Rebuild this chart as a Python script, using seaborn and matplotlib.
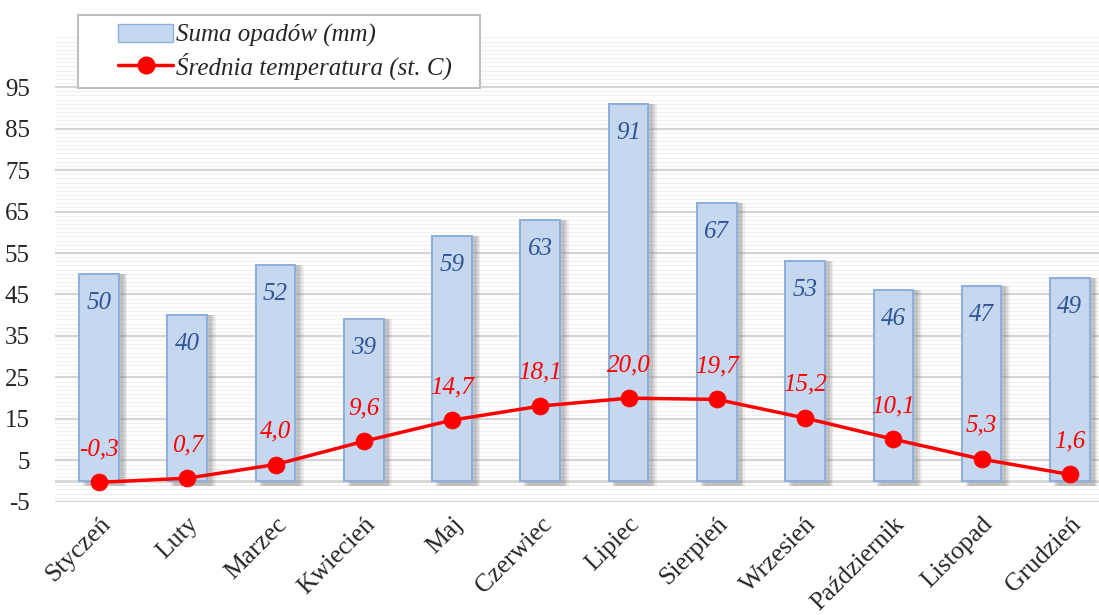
import numpy as np
import pandas as pd
import matplotlib
matplotlib.use("Agg")
import matplotlib.pyplot as plt
import seaborn as sns
from matplotlib.lines import Line2D
from matplotlib.patches import Patch, Rectangle

# Data
months = ["Styczeń", "Luty", "Marzec", "Kwiecień", "Maj", "Czerwiec", "Lipiec",
          "Sierpień", "Wrzesień", "Październik", "Listopad", "Grudzień"]
rain = [50, 40, 52, 39, 59, 63, 91, 67, 53, 46, 47, 49]
temp = [-0.3, 0.7, 4.0, 9.6, 14.7, 18.1, 20.0, 19.7, 15.2, 10.1, 5.3, 1.6]

df = pd.DataFrame({"miesiac": months, "opady": rain, "temp": temp})

sns.set_style("white")
plt.rcParams["font.family"] = ["Liberation Serif", "DejaVu Serif"]
plt.rcParams["axes.unicode_minus"] = False

fig = plt.figure(figsize=(10.99, 6.15), dpi=100)
ax = fig.add_axes([0.05, 0.184, 0.95, 0.762])

# background stripes + major grid
ax.set_ylim(-5, 108)
for y in np.arange(-5, 108, 1):
    ax.axhline(y, color="#f0f0f0", lw=0.7, zorder=0)
for y in np.arange(-5, 100, 10):
    ax.axhline(y, color="#d4d4d4", lw=1.6, zorder=0)
ax.axhline(0, color="#d9d9d9", lw=2.2, zorder=0)

x = np.arange(len(months))
# soft bar shadows
for off, a in [(0.09, 0.12), (0.07, 0.18), (0.05, 0.25)]:
    ax.bar(x + off, np.array(rain) + 1.2, width=0.46, bottom=-1.2, color="#808080",
           alpha=a, zorder=1, linewidth=0)
sns.barplot(data=df, x="miesiac", y="opady", ax=ax, color="#c6d8ef", width=0.45,
            edgecolor="#8eb0dc", linewidth=1.5, saturation=1, zorder=2)

sns.lineplot(x=x, y=temp, ax=ax, color="#ff0000", lw=2.5, marker="o",
             markersize=12, markeredgecolor="#ff0000", zorder=4)

for xi, r in zip(x, rain):
    ax.text(xi, r - 7, str(r), ha="center", va="center", fontsize=18,
            style="italic", color="#2f5597", zorder=5)
for xi, t in zip(x, temp):
    ax.text(xi, t + 8, f"{t:.1f}".replace(".", ","), ha="center", va="center",
            fontsize=18, style="italic", color="#ff0000", zorder=5)

ax.set_xlim(-0.5, 11.33)
ax.set_yticks(np.arange(-5, 100, 10))
ax.tick_params(axis="y", labelsize=18, length=0, pad=18)
ax.set_xticks(x)
ax.set_xticklabels(months, rotation=45, ha="right", rotation_mode="anchor",
                   fontsize=18.5)
ax.tick_params(axis="x", length=0, pad=8)
ax.set_xlabel("")
ax.set_ylabel("")
for s in ax.spines.values():
    s.set_visible(False)

# legend box
fig.add_artist(Rectangle((78 / 1099, 1 - 88 / 615), 402 / 1099, 73 / 615,
                         transform=fig.transFigure, facecolor="white",
                         edgecolor="#bfbfbf", lw=1.5, zorder=9))
handles = [Patch(facecolor="#c6d8ef", edgecolor="#8eb0dc"),
           Line2D([0], [0], color="#ff0000", lw=2.5, marker="o", markersize=12)]
leg = fig.legend(handles, ["Suma opadów (mm)", "Średnia temperatura (st. C)"],
                 loc="upper left", bbox_to_anchor=(118 / 1099, 1 - 24 / 615),
                 frameon=False, prop={"size": 18, "style": "italic"},
                 handlelength=2.2, handletextpad=0.1, borderpad=0,
                 labelspacing=0.2, borderaxespad=0)
leg.set_zorder(10)

fig.savefig("out.png", dpi=100)
